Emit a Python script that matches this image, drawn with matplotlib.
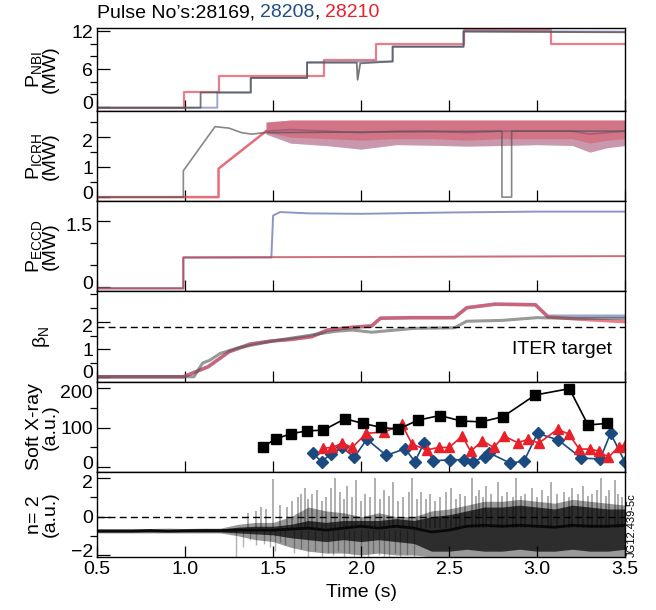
import numpy as np
import matplotlib
matplotlib.use("Agg")
import matplotlib.pyplot as plt
from matplotlib.ticker import MultipleLocator
from matplotlib.transforms import ScaledTranslation

plt.rcParams['font.family'] = ['Liberation Sans', 'DejaVu Sans']
plt.rcParams['mathtext.fontset'] = 'custom'
plt.rcParams['mathtext.rm'] = 'Liberation Sans'
plt.rcParams['font.size'] = 14

GRAY = '#555555'
BLUE = '#5a6aa8'
RED = '#e04858'

# ---- P_NBI (MW), step signals
nbi_t_k = [0.5, 1.088, 1.088, 1.373, 1.373, 1.693, 1.693, 1.975, 1.98, 1.995, 2.179, 2.179, 2.582, 2.582, 3.5]
nbi_v_k = [-0.1, -0.1, 2.3, 2.3, 4.6, 4.6, 7.0, 7.0, 4.3, 6.9, 7.2, 9.5, 9.5, 11.9, 11.8]
nbi_t_b = [0.5, 1.183, 1.183, 1.373, 1.373, 1.693, 1.693, 2.179, 2.179, 2.582, 2.582, 3.5]
nbi_v_b = [-0.1, -0.1, 2.3, 2.3, 4.6, 4.6, 7.1, 7.2, 9.6, 9.6, 12.0, 11.9]
nbi_t_r = [0.5, 0.993, 0.993, 1.195, 1.195, 1.788, 1.788, 2.084, 2.084, 2.582, 2.582, 3.08, 3.08, 3.5]
nbi_v_r = [-0.1, -0.1, 2.4, 2.4, 4.9, 4.9, 7.4, 7.4, 10.0, 10.0, 12.1, 12.1, 9.9, 9.9]

# ---- P_ICRH (MW)
icrh_t_k = [0.5, 0.99, 0.99, 1.17, 1.25, 1.32, 1.38, 1.45, 2.80, 2.80, 2.855, 2.855, 3.5]
icrh_v_k = [0.0, 0.0, 0.88, 2.35, 2.3, 2.15, 2.1, 2.15, 2.2, 0.0, 0.0, 2.2, 2.2]
icrh_t_ramp = [0.5, 1.19, 1.19, 1.46]
icrh_v_ramp = [0.0, 0.0, 0.95, 2.2]
icrh_band_t = [1.46, 1.6, 1.8, 2.0, 2.2, 2.4, 2.6, 2.8, 3.0, 3.2, 3.3, 3.4, 3.5]
icrh_band_hi = [2.5, 2.57, 2.57, 2.57, 2.57, 2.57, 2.57, 2.57, 2.57, 2.57, 2.57, 2.57, 2.57]
icrh_band_lo = [2.1, 1.8, 1.72, 1.6, 1.75, 1.73, 1.7, 1.72, 1.75, 1.72, 1.5, 1.65, 1.72]
icrh_band_mid = [2.2, 2.25, 2.2, 2.15, 2.2, 2.2, 2.15, 2.2, 2.2, 2.2, 2.1, 2.15, 2.2]
icrh_band_inlo = [2.15, 2.0, 1.95, 1.9, 1.95, 1.95, 1.9, 1.95, 1.95, 1.95, 1.8, 1.9, 1.95]

# ---- P_ECCD (MW)
eccd_t_k = [0.5, 0.99, 0.99, 3.5]
eccd_v_k = [-0.03, -0.03, 0.67, 0.70]
eccd_t_b = [0.5, 0.99, 0.99, 1.49, 1.50, 1.54, 1.7, 2.0, 2.5, 3.0, 3.5]
eccd_v_b = [-0.03, -0.03, 0.67, 0.67, 1.62, 1.70, 1.67, 1.66, 1.69, 1.71, 1.71]

# ---- beta_N
beta_t = [0.5, 0.99, 1.13, 1.25, 1.37, 1.49, 1.60, 1.72, 1.81, 1.95, 2.06, 2.11, 2.29, 2.53, 2.60, 2.76, 2.99, 3.06, 3.22, 3.5]
beta_r = [0, 0, 0.36, 0.91, 1.19, 1.3, 1.35, 1.45, 1.7, 1.8, 1.85, 2.13, 2.15, 2.15, 2.51, 2.64, 2.62, 2.18, 2.10, 2.0]
beta_b = [0, 0, 0.36, 0.91, 1.19, 1.3, 1.37, 1.47, 1.7, 1.8, 1.85, 2.13, 2.15, 2.15, 2.51, 2.64, 2.62, 2.2, 2.2, 2.2]
beta_t_k = [0.5, 1.05, 1.10, 1.14, 1.2, 1.3, 1.5, 1.7, 1.85, 1.95, 2.06, 2.3, 2.53, 2.60, 2.8, 3.0, 3.2, 3.5]
beta_k = [0, 0, 0.5, 0.6, 0.85, 1.05, 1.3, 1.5, 1.65, 1.7, 1.62, 1.76, 1.78, 2.02, 2.05, 2.15, 2.12, 2.12]
iter_target = 1.8

# ---- Soft X-ray (a.u.)
sx_t_k = [1.440, 1.518, 1.601, 1.694, 1.786, 1.909, 2.008, 2.115, 2.210, 2.321, 2.447, 2.570, 2.683, 2.806, 2.989, 3.183, 3.289, 3.398]
sx_v_k = [52, 72, 85, 92, 94, 123, 111, 101, 96, 119, 131, 117, 115, 128, 183, 199, 107, 111]
sx_t_r = [1.781, 1.835, 1.894, 1.949, 2.030, 2.132, 2.231, 2.290, 2.373, 2.440, 2.499, 2.575, 2.622, 2.689,
          2.753, 2.812, 2.890, 2.950, 3.009, 3.116, 3.180, 3.239, 3.298, 3.350, 3.405, 3.464, 3.50]
sx_v_r = [48, 50, 61, 50, 86, 89, 109, 58, 44, 50, 50, 79, 40, 67, 50, 79, 62, 71, 61, 96, 84, 46, 46, 41, 25, 52, 57]
sx_t_b = [1.724, 1.776, 1.828, 1.894, 1.961, 2.032, 2.143, 2.250, 2.305, 2.357, 2.409, 2.504, 2.582, 2.637,
          2.701, 2.729, 2.848, 2.926, 3.002, 3.120, 3.251, 3.358, 3.417, 3.500]
sx_v_b = [36, 14, 34, 50, 25, 71, 30, 47, 14, 61, 16, 19, 19, 14, 27, 36, 10, 16, 86, 69, 23, 21, 86, 12]

# ---- n=2 mode amplitude (a.u.), envelopes + spikes
n2_t = [0.5, 0.6, 0.7, 0.8, 0.9, 1.0, 1.1, 1.2, 1.3, 1.4, 1.5, 1.6, 1.7, 1.8, 1.9, 2.0,
        2.1, 2.2, 2.3, 2.4, 2.5, 2.6, 2.7, 2.8, 2.9, 3.0, 3.1, 3.2, 3.3, 3.4, 3.5]
n2_core = [-0.75, -0.75, -0.75, -0.72, -0.75, -0.73, -0.72, -0.72, -0.7, -0.7, -0.7, -0.65, -0.6, -0.7, -0.6, -0.5,
           -0.6, -0.5, -0.6, -0.8, -0.7, -0.5, -0.45, -0.5, -0.45, -0.5, -0.55, -0.45, -0.5, -0.5, -0.45]
n2_lo = [-0.85, -0.85, -0.85, -0.85, -0.85, -0.85, -0.85, -0.85, -1.0, -1.2, -1.3, -1.6, -1.8, -1.9, -1.9, -2.0,
         -1.9, -2.0, -2.0, -2.1, -2.1, -2.1, -2.1, -2.1, -2.1, -2.1, -2.1, -2.1, -2.1, -2.1, -2.1]
n2_hi = [-0.62, -0.62, -0.62, -0.62, -0.6, -0.62, -0.6, -0.6, -0.4, -0.3, -0.3, 0.0, 0.5, 0.3, 0.2, 0.0,
         0.2, 0.0, 0.0, 0.3, 0.4, 0.6, 0.8, 0.8, 0.9, 0.8, 0.7, 0.9, 0.8, 0.7, 0.6]
n2_in_lo = [-0.8, -0.8, -0.8, -0.8, -0.8, -0.8, -0.8, -0.8, -0.85, -0.9, -0.95, -1.1, -1.2, -1.3, -1.2, -1.3,
            -1.2, -1.3, -1.4, -1.8, -1.8, -1.7, -1.8, -1.8, -1.7, -1.8, -1.8, -1.7, -1.8, -1.8, -1.7]
n2_in_hi = [-0.68, -0.68, -0.68, -0.66, -0.68, -0.66, -0.65, -0.65, -0.55, -0.5, -0.5, -0.4, -0.2, -0.3, -0.2, -0.2,
            -0.2, -0.1, -0.2, 0.0, 0.1, 0.3, 0.5, 0.5, 0.6, 0.5, 0.4, 0.6, 0.5, 0.4, 0.4]
n2_up_t = [1.36, 1.40, 1.43, 1.46, 1.50, 1.54, 1.58, 1.61, 1.64, 1.66, 1.68, 1.70, 1.72, 1.75, 1.78, 1.80,
           1.83, 1.85, 1.88, 1.90, 1.92, 1.95, 1.97, 2.00, 2.02, 2.05, 2.08, 2.11, 2.13, 2.16, 2.18, 2.21,
           2.24, 2.27, 2.29, 2.32, 2.34, 2.37, 2.39, 2.42, 2.45, 2.48, 2.51, 2.54, 2.56, 2.59, 2.63, 2.65,
           2.67, 2.69, 2.71, 2.74, 2.78, 2.80, 2.83, 2.86, 2.88, 2.91, 2.93, 2.97, 3.00, 3.03, 3.06, 3.08,
           3.11, 3.15, 3.18, 3.20, 3.23, 3.26, 3.29, 3.31, 3.34, 3.36, 3.39, 3.41, 3.44, 3.46, 3.48]
n2_up_v = [0.2, 0.3, 0.5, 0.4, 1.95, 0.6, 0.5, 0.8, 1.0, 1.2, 1.5, 0.9, 1.2, 1.4, 0.8, 1.0,
           1.5, 2.0, 1.3, 0.9, 1.6, 1.0, 1.9, 0.8, 1.2, 1.0, 2.0, 0.9, 1.4, 1.1, 1.8, 0.8,
           1.0, 1.3, 2.0, 0.9, 1.3, 0.9, 1.2, 0.8, 1.0, 1.3, 1.5, 0.9, 1.2, 1.1, 2.0, 1.1,
           1.4, 1.0, 1.6, 1.2, 1.8, 1.1, 1.3, 1.0, 2.0, 1.1, 1.2, 1.5, 1.0, 1.4, 1.1, 1.8,
           1.2, 1.3, 1.0, 1.5, 1.2, 1.6, 1.1, 1.2, 1.4, 2.0, 1.1, 1.4, 1.9, 1.2, 1.0]
n2_dn_t = [1.29, 1.33, 1.37, 1.40, 1.45, 1.48, 1.51, 1.54, 1.57, 1.62, 1.66, 1.70, 1.74, 1.78, 1.81, 1.84,
           1.87, 1.90, 1.93, 1.96, 2.00, 2.04, 2.07, 2.10, 2.13, 2.16, 2.19, 2.22, 2.26, 2.30]
n2_dn_v = [-2.1, -1.6, -1.2, -1.5, -1.4, -1.6, -1.8, -1.3, -1.5, -1.9, -1.7, -2.1, -1.8, -2.1, -1.9, -2.0,
           -1.8, -2.1, -1.9, -2.1, -2.0, -2.1, -1.9, -2.0, -2.1, -2.1, -1.9, -2.1, -2.0, -2.1]

xticks = [0.5, 1.0, 1.5, 2.0, 2.5, 3.0, 3.5]

fig = plt.figure(figsize=(6.56, 6.10), dpi=100)
gs = fig.add_gridspec(6, 1, height_ratios=[83, 90, 90, 91, 90, 85], hspace=0,
                      left=0.148, right=0.953, top=0.954, bottom=0.087)
axes = [fig.add_subplot(gs[i]) for i in range(6)]
for i in range(1, 6):
    axes[i].sharex(axes[0])

for ax in axes:
    ax.set_xlim(0.5, 3.5)
    ax.set_xticks(xticks)
    ax.tick_params(axis='both', direction='in', top=False, right=False, labelsize=14, width=0.9)
    ax.tick_params(axis='x', length=8, pad=3)
    ax.tick_params(axis='y', which='major', length=9, pad=3)
    ax.tick_params(axis='y', which='minor', length=5, width=0.9)
    for s in ax.spines.values():
        s.set_linewidth(1.0)
    if ax is not axes[-1]:
        ax.tick_params(axis='x', labelbottom=False)

# P_NBI
ax = axes[0]
ax.plot(nbi_t_r, nbi_v_r, color=RED, lw=1.6, alpha=0.7)
ax.plot(nbi_t_b, nbi_v_b, color=BLUE, lw=1.4, alpha=0.6)
ax.plot(nbi_t_k, nbi_v_k, color=GRAY, lw=1.3, alpha=0.8)
ax.set_ylim(-0.63, 12.47)
ax.set_yticks([0, 6, 12])
ax.yaxis.set_minor_locator(MultipleLocator(2))
ax.set_ylabel('$\\mathregular{P_{NBI}}$\n(MW)', linespacing=0.85)

# P_ICRH
ax = axes[1]
ax.fill_between(icrh_band_t, icrh_band_lo, icrh_band_hi, color=BLUE, alpha=0.4, lw=0)
ax.fill_between(icrh_band_t, icrh_band_lo, icrh_band_hi, color=RED, alpha=0.35, lw=0)
ax.fill_between(icrh_band_t, icrh_band_inlo, icrh_band_hi, color=RED, alpha=0.45, lw=0)
ax.plot(icrh_band_t, icrh_band_mid, color='#8a4a7a', lw=1.2, alpha=0.6)
ax.plot(icrh_t_ramp, icrh_v_ramp, color=RED, lw=1.8, alpha=0.8)
ax.plot(icrh_t_k, icrh_v_k, color=GRAY, lw=1.2, alpha=0.7)
ax.set_ylim(-0.13, 2.87)
ax.set_yticks([0, 1, 2])
ax.yaxis.set_minor_locator(MultipleLocator(0.5))
ax.set_ylabel('$\\mathregular{P_{ICRH}}$\n(MW)', linespacing=0.85)

# P_ECCD
ax = axes[2]
ax.plot(eccd_t_b, eccd_v_b, color=BLUE, lw=1.4, alpha=0.7)
ax.plot(eccd_t_k, eccd_v_k, color=GRAY, lw=1.2, alpha=0.5)
ax.plot(eccd_t_k, eccd_v_k, color=RED, lw=1.4, alpha=0.6)
ax.set_ylim(-0.09, 1.95)
ax.set_yticks([0, 1.5])
ax.set_yticklabels(['0', '1.5'])
ax.yaxis.set_minor_locator(MultipleLocator(0.5))
ax.set_ylabel('$\\mathregular{P_{ECCD}}$\n(MW)', linespacing=0.85)

# beta_N
ax = axes[3]
ax.plot(beta_t, beta_b, color=BLUE, lw=2.6, alpha=0.6)
ax.plot(beta_t, beta_r, color=RED, lw=2.4, alpha=0.7)
ax.plot(beta_t_k, beta_k, color=GRAY, lw=2.2, alpha=0.6)
ax.axhline(iter_target, color='black', lw=1.0, ls=(0, (5, 3)))
ax.text(0.975, 1.0, 'ITER target', transform=ax.get_yaxis_transform(), ha='right', va='center', fontsize=14)
ax.set_ylim(-0.19, 3.12)
ax.set_yticks([0, 1, 2])
ax.yaxis.set_minor_locator(MultipleLocator(0.5))
ax.set_ylabel('$\\mathregular{β_N}$')

# Soft X-ray
ax = axes[4]
ax.plot(sx_t_b, sx_v_b, color='#1a4a80', lw=1.2, marker='D', ms=6.5)
ax.plot(sx_t_r, sx_v_r, color='#e8202a', lw=1.2, marker='^', ms=7)
ax.plot(sx_t_k, sx_v_k, color='black', lw=1.2, marker='s', ms=7)
ax.set_ylim(-12, 216)
ax.set_yticks([0, 100, 200])
ax.yaxis.set_minor_locator(MultipleLocator(50))
ax.set_ylabel('Soft X-ray\n(a.u.)', linespacing=0.95)

# n = 2
ax = axes[5]
ax.vlines(n2_dn_t, -0.7, n2_dn_v, color='black', alpha=0.3, lw=1.0)
ax.vlines(n2_up_t, -0.6, n2_up_v, color='black', alpha=0.4, lw=1.1)
ax.fill_between(n2_t, n2_lo, n2_hi, color='black', alpha=0.4, lw=0)
ax.fill_between(n2_t, n2_in_lo, n2_in_hi, color='black', alpha=0.7, lw=0)
ax.plot(n2_t, n2_core, color='black', lw=2.0, alpha=0.8)
ax.axhline(0, color='black', lw=1.0, ls=(0, (5, 3)))
ax.set_ylim(-2.1, 2.33)
ax.set_yticks([-2, 0, 2])
ax.yaxis.set_minor_locator(MultipleLocator(1))
ax.set_ylabel('n= 2\n(a.u.)', linespacing=0.95)
ax.set_xticklabels(['0.5', '1.0', '1.5', '2.0', '2.5', '3.0', '3.5'])
ax.set_xlabel('Time (s)', fontsize=14, labelpad=4)

for ax in axes:
    ax.yaxis.set_label_coords(-0.072, 0.5)
axes[3].yaxis.set_label_coords(-0.085, 0.5)

# nudge the outermost y tick labels inward so adjacent panels don't collide
up = ScaledTranslation(0, 3.5 / 72, fig.dpi_scale_trans)
down = ScaledTranslation(0, -2.5 / 72, fig.dpi_scale_trans)
for i, ax in enumerate(axes):
    ticks = ax.yaxis.get_major_ticks()
    if i > 0:
        ticks[-1].label1.set_transform(ticks[-1].label1.get_transform() + down)
    ticks[0].label1.set_transform(ticks[0].label1.get_transform() + up)

fig.text(0.963, 0.087, 'JG12.439-5c', rotation=90, fontsize=8, ha='center', va='bottom')

# title with coloured pulse numbers
x0, y0 = 0.148, 0.965
parts = [("Pulse No\u2019s:28169, ", 'black'), ("28208", '#1f4e85'), (", ", 'black'), ("28210", '#e8202a')]
fig.canvas.draw()
r = fig.canvas.get_renderer()
xpix = x0 * fig.bbox.width
for s, c in parts:
    t = fig.text(xpix / fig.bbox.width, y0, s, color=c, fontsize=14, ha='left', va='bottom')
    xpix = t.get_window_extent(renderer=r).x1

fig.savefig('out.png', dpi=100)
